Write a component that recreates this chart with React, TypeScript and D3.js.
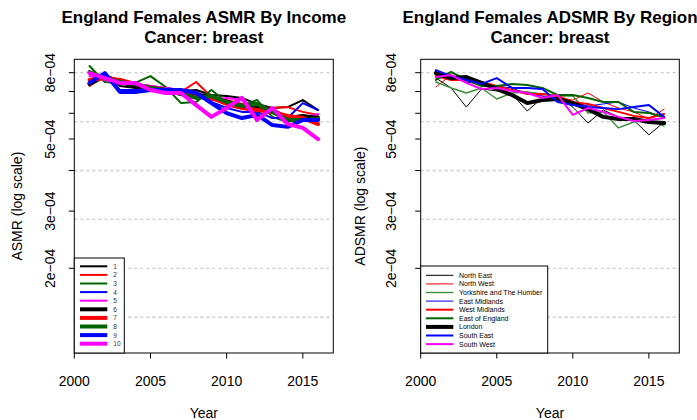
import React from "react";
import * as d3 from "d3";

// ---- data -------------------------------------------------------------
const years = [2001, 2002, 2003, 2004, 2005, 2006, 2007, 2008, 2009, 2010, 2011, 2012, 2013, 2014, 2015, 2016];

const incomeLabels = ["1", "2", "3", "4", "5", "6", "7", "8", "9", "10"];
const income1 = [7.60e-4, 7.81e-4, 7.28e-4, 7.18e-4, 7.18e-4, 7.18e-4, 7.03e-4, 7.08e-4, 6.83e-4, 6.78e-4, 6.69e-4, 6.41e-4, 6.23e-4, 6.27e-4, 6.59e-4, 6.14e-4];
const income2 = [7.28e-4, 7.81e-4, 7.60e-4, 7.39e-4, 7.28e-4, 7.18e-4, 6.98e-4, 7.49e-4, 6.74e-4, 6.59e-4, 6.41e-4, 6.32e-4, 6.23e-4, 6.27e-4, 6.06e-4, 5.93e-4];
const income3 = [8.39e-4, 7.49e-4, 7.44e-4, 7.44e-4, 7.81e-4, 7.23e-4, 6.45e-4, 6.50e-4, 7.08e-4, 6.50e-4, 6.36e-4, 6.59e-4, 5.85e-4, 5.64e-4, 5.80e-4, 5.85e-4];
const income4 = [7.49e-4, 7.93e-4, 7.08e-4, 7.08e-4, 7.18e-4, 7.18e-4, 7.08e-4, 6.98e-4, 6.50e-4, 6.23e-4, 6.06e-4, 6.06e-4, 5.80e-4, 5.80e-4, 6.45e-4, 6.14e-4];
const income5 = [7.81e-4, 7.60e-4, 7.39e-4, 7.39e-4, 7.28e-4, 7.18e-4, 7.08e-4, 6.78e-4, 6.59e-4, 6.69e-4, 6.59e-4, 6.23e-4, 6.06e-4, 5.72e-4, 5.80e-4, 5.97e-4];
const income6 = [7.39e-4, 7.81e-4, 7.49e-4, 7.28e-4, 7.18e-4, 7.08e-4, 6.88e-4, 6.88e-4, 6.69e-4, 6.50e-4, 6.32e-4, 6.32e-4, 6.14e-4, 5.80e-4, 5.89e-4, 5.80e-4];
const income7 = [7.60e-4, 7.70e-4, 7.60e-4, 7.39e-4, 7.18e-4, 7.08e-4, 6.98e-4, 6.78e-4, 6.69e-4, 6.41e-4, 6.23e-4, 6.14e-4, 6.06e-4, 5.89e-4, 5.80e-4, 5.56e-4];
const income8 = [8.04e-4, 7.70e-4, 7.49e-4, 7.39e-4, 7.18e-4, 7.08e-4, 6.88e-4, 6.69e-4, 6.78e-4, 6.50e-4, 6.32e-4, 6.41e-4, 6.06e-4, 5.72e-4, 5.72e-4, 5.76e-4];
const income9 = [7.44e-4, 7.98e-4, 6.98e-4, 6.98e-4, 7.08e-4, 7.08e-4, 7.08e-4, 6.93e-4, 6.45e-4, 6.01e-4, 5.80e-4, 5.93e-4, 5.52e-4, 5.45e-4, 5.72e-4, 5.72e-4];
const income10 = [7.98e-4, 7.70e-4, 7.44e-4, 7.44e-4, 7.08e-4, 6.93e-4, 6.93e-4, 6.36e-4, 5.85e-4, 6.23e-4, 6.69e-4, 5.72e-4, 6.23e-4, 5.56e-4, 5.41e-4, 5.00e-4];
const incomeSeries = [income1, income2, income3, income4, income5, income6, income7, income8, income9, income10];

const regionLabels = ["North East", "North West", "Yorkshire and The Humber", "East Midlands", "West Midlands", "East of England", "London", "South East", "South West"];
const northEast = [7.70e-4, 7.18e-4, 6.27e-4, 7.13e-4, 7.03e-4, 6.88e-4, 6.10e-4, 6.69e-4, 6.74e-4, 6.27e-4, 5.60e-4, 6.14e-4, 5.85e-4, 5.72e-4, 5.15e-4, 5.64e-4];
const northWest = [7.23e-4, 7.87e-4, 7.49e-4, 7.39e-4, 7.18e-4, 7.08e-4, 6.98e-4, 6.78e-4, 6.69e-4, 6.59e-4, 6.93e-4, 6.50e-4, 6.23e-4, 6.06e-4, 5.76e-4, 6.18e-4];
const yorkshire = [7.49e-4, 7.18e-4, 6.93e-4, 7.18e-4, 6.64e-4, 6.93e-4, 6.98e-4, 6.88e-4, 6.78e-4, 6.78e-4, 6.01e-4, 6.06e-4, 5.41e-4, 5.64e-4, 5.72e-4, 5.48e-4];
const eastMidlands = [8.04e-4, 7.70e-4, 7.49e-4, 7.39e-4, 7.28e-4, 7.18e-4, 6.88e-4, 6.78e-4, 6.69e-4, 6.50e-4, 6.32e-4, 6.41e-4, 6.50e-4, 6.23e-4, 6.06e-4, 5.80e-4];
const westMidlands = [7.81e-4, 7.60e-4, 7.60e-4, 7.49e-4, 7.28e-4, 7.08e-4, 6.88e-4, 6.88e-4, 6.78e-4, 6.50e-4, 6.41e-4, 6.23e-4, 6.06e-4, 5.89e-4, 5.80e-4, 5.97e-4];
const eastOfEngland = [7.60e-4, 8.04e-4, 7.60e-4, 7.28e-4, 7.28e-4, 7.39e-4, 7.33e-4, 7.18e-4, 6.83e-4, 6.83e-4, 6.69e-4, 6.50e-4, 6.50e-4, 6.06e-4, 6.01e-4, 5.85e-4];
const london = [7.98e-4, 7.70e-4, 7.76e-4, 7.44e-4, 7.13e-4, 6.83e-4, 6.45e-4, 6.59e-4, 6.64e-4, 6.45e-4, 6.18e-4, 5.85e-4, 5.76e-4, 5.76e-4, 5.64e-4, 5.60e-4];
const southEast = [8.15e-4, 7.81e-4, 7.60e-4, 7.39e-4, 7.70e-4, 7.18e-4, 7.18e-4, 7.13e-4, 6.50e-4, 6.36e-4, 6.27e-4, 6.23e-4, 6.18e-4, 6.27e-4, 6.36e-4, 5.85e-4];
const southWest = [7.76e-4, 7.87e-4, 7.44e-4, 7.13e-4, 7.18e-4, 7.03e-4, 6.93e-4, 6.69e-4, 6.83e-4, 5.93e-4, 6.23e-4, 6.06e-4, 5.85e-4, 5.68e-4, 5.72e-4, 5.80e-4];
const regionSeries = [northEast, northWest, yorkshire, eastMidlands, westMidlands, eastOfEngland, london, southEast, southWest];

const xTicks = [2000, 2005, 2010, 2015];
const yTicks = [8e-4, 7e-4, 6e-4, 5e-4, 4e-4, 3e-4, 2e-4];
const yTickLabels = ["8e\u221204", "", "", "5e\u221204", "", "3e\u221204", "2e\u221204"];
const gridValues = [8e-4, 5.657e-4, 4e-4, 2.828e-4, 2e-4, 1.414e-4];

// ---- styles -----------------------------------------------------------
const incomeColors = ["#000000", "#ff0000", "#006400", "#0000ff", "#ff00ff", "#000000", "#ff0000", "#006400", "#0000ff", "#ff00ff"];
const incomeWidths = [2, 2, 2, 2, 2, 4, 4, 4, 4, 4];
const regionColors = ["#000000", "#ff0000", "#3c8c3c", "#0000ff", "#ff0000", "#006400", "#000000", "#0000ff", "#ff00ff"];
const regionWidths = [1, 1, 1.4, 1, 2, 2, 4, 2, 2];

const FONT = "'Liberation Sans', Arial, Helvetica, sans-serif";
const TOP = 59.3;
const BOTTOM = 353;

type PanelProps = {
  left: number;
  right: number;
  title: string;
  ylab: string;
  tickLabelX: number;
  ylabX: number;
  series: number[][];
  labels: string[];
  colors: string[];
  widths: number[];
  legend: { width: number; top: number; firstY: number; step: number; lineX0: number; lineX1: number; textX: number; fontSize: number; textColor: string };
};

function Panel(p: PanelProps) {
  const x = d3.scaleLinear().domain([2000, 2017]).range([p.left, p.right]);
  const y = d3.scaleLog().domain([1.0975e-4, 8.797e-4]).range([BOTTOM, TOP]);
  const line = d3
    .line<number>()
    .x((_, i) => x(years[i]))
    .y((v) => y(v));
  const cx = (p.left + p.right) / 2;
  const midY = (TOP + BOTTOM) / 2;
  const lg = p.legend;

  return (
    <g>
      <text x={cx} y={23} textAnchor="middle" fontWeight="bold" fontSize={17} fontFamily={FONT}>{p.title}</text>
      <text x={cx} y={43} textAnchor="middle" fontWeight="bold" fontSize={17} fontFamily={FONT}>Cancer: breast</text>

      {gridValues.map((g) => (
        <line key={g} x1={p.left} x2={p.right} y1={y(g)} y2={y(g)} stroke="#cccccc" strokeWidth={1.3} strokeDasharray="3,3" />
      ))}

      {p.series.map((s, i) => (
        <path key={i} d={line(s) || ""} fill="none" stroke={p.colors[i]} strokeWidth={p.widths[i]} strokeLinejoin="round" strokeLinecap="round" />
      ))}

      <rect x={p.left} y={TOP} width={p.right - p.left} height={BOTTOM - TOP} fill="none" stroke="#000" strokeWidth={1} />

      {/* x axis */}
      {xTicks.map((t) => (
        <g key={t}>
          <line x1={x(t)} x2={x(t)} y1={BOTTOM} y2={BOTTOM + 5.5} stroke="#000" />
          <text x={x(t)} y={386} textAnchor="middle" fontSize={14} fontFamily={FONT}>{t}</text>
        </g>
      ))}
      <text x={cx} y={418} textAnchor="middle" fontSize={14} fontFamily={FONT}>Year</text>

      {/* y axis */}
      {yTicks.map((t, i) => (
        <g key={t}>
          <line x1={p.left - 5.5} x2={p.left} y1={y(t)} y2={y(t)} stroke="#000" />
          {yTickLabels[i] && (
            <text transform={`translate(${p.tickLabelX},${y(t)}) rotate(-90)`} textAnchor="middle" dominantBaseline="central" fontSize={14} fontFamily={FONT}>
              {yTickLabels[i]}
            </text>
          )}
        </g>
      ))}
      <text transform={`translate(${p.ylabX},${midY}) rotate(-90)`} textAnchor="middle" dominantBaseline="central" fontSize={14} fontFamily={FONT}>
        {p.ylab}
      </text>

      {/* legend */}
      <rect x={p.left} y={lg.top} width={lg.width} height={BOTTOM - lg.top} fill="#fff" stroke="#000" strokeWidth={1} />
      {p.labels.map((lab, i) => {
        const ly = lg.firstY + i * lg.step;
        return (
          <g key={lab}>
            <line x1={lg.lineX0} x2={lg.lineX1} y1={ly} y2={ly} stroke={p.colors[i]} strokeWidth={p.widths[i]} />
            <text x={lg.textX} y={ly} dominantBaseline="central" fontSize={lg.fontSize} fontFamily={FONT} fill={lg.textColor}>{lab}</text>
          </g>
        );
      })}
    </g>
  );
}

export default function App() {
  return (
    <svg width={697} height={420} style={{ position: "absolute", left: 0, top: 0, background: "#fff" }}>
      <rect x={0} y={0} width={697} height={420} fill="#fff" />
      <Panel
        left={74.3}
        right={333.3}
        title="England Females ASMR By Income"
        ylab="ASMR (log scale)"
        tickLabelX={50}
        ylabX={17}
        series={incomeSeries}
        labels={incomeLabels}
        colors={incomeColors}
        widths={incomeWidths}
        legend={{ width: 50, top: 258, firstY: 266.3, step: 8.6, lineX0: 80, lineX1: 107.3, textX: 113.3, fontSize: 6.5, textColor: "#333" }}
      />
      <Panel
        left={420.7}
        right={679.3}
        title="England Females ADSMR By Region"
        ylab="ADSMR (log scale)"
        tickLabelX={391}
        ylabX={360}
        series={regionSeries}
        labels={regionLabels}
        colors={regionColors}
        widths={regionWidths}
        legend={{ width: 127, top: 266, firstY: 275.3, step: 8.6, lineX0: 426, lineX1: 453.3, textX: 459, fontSize: 7, textColor: "#000" }}
      />
    </svg>
  );
}
